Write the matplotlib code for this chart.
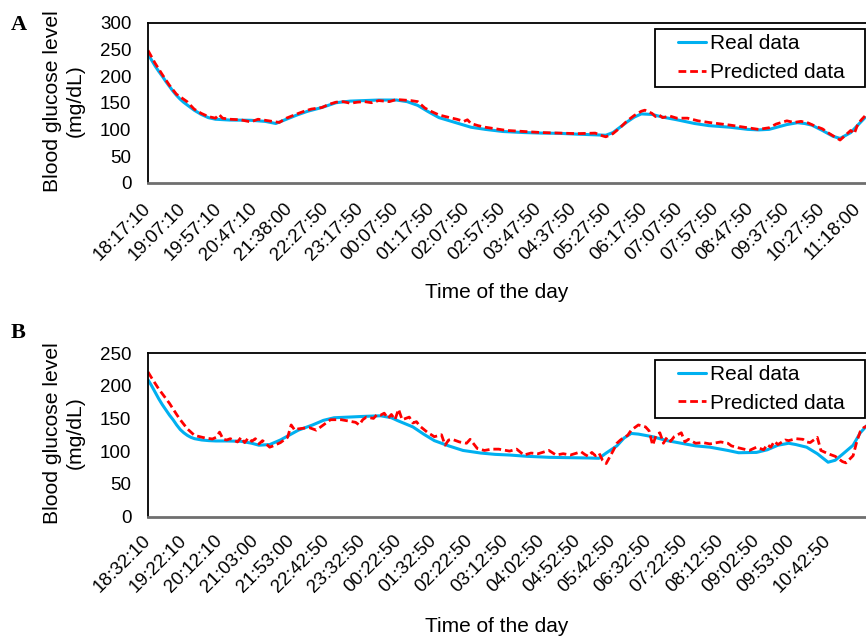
import matplotlib
matplotlib.use("Agg")
import matplotlib.pyplot as plt
from matplotlib.legend_handler import HandlerLine2D
from matplotlib.lines import Line2D

plt.rcParams['font.family'] = ['Liberation Sans', 'DejaVu Sans']

# ---------------- Panel A data ----------------
labels_a = ["18:17:10", "19:07:10", "19:57:10", "20:47:10", "21:38:00", "22:27:50",
            "23:17:50", "00:07:50", "01:17:50", "02:07:50", "02:57:50", "03:47:50",
            "04:37:50", "05:27:50", "06:17:50", "07:07:50", "07:57:50", "08:47:50",
            "09:37:50", "10:27:50", "11:18:00"]
real_a_idx = [0, 1, 2, 3, 4, 5, 6, 7, 8, 9, 10, 11, 12, 13, 15, 17, 19, 23, 29, 33, 36, 39,
              42, 45, 49, 53, 57, 61, 65, 70, 73, 76, 79, 82, 87, 91, 95, 100, 106, 111, 116,
              121, 127, 129, 131, 133, 135, 137, 139, 142, 145, 149, 154, 158, 164, 169,
              172, 175, 180, 183, 185, 187, 190, 193, 195, 198, 200, 202]
real_a = [241, 230, 219, 209, 200, 190, 181, 172, 164, 157, 151, 146, 141, 136, 128, 122,
          119, 117.5, 117, 115, 111, 119, 127, 134, 141, 150, 153, 154, 155, 155, 152, 145,
          133, 122, 112, 104, 100, 96, 94, 93, 92.5, 91, 89.5, 89, 94, 104, 114, 123, 129,
          128, 123, 118, 111, 107, 104, 100, 99, 100, 109, 112.5, 111, 108, 98, 87, 83, 94,
          108, 122]
pred_a_idx = [0, 2, 4, 6, 8, 11, 13, 15, 17, 19, 20, 21, 23, 26, 29, 31, 33, 35, 37, 39,
              42, 44, 46, 49, 51, 53, 55, 57, 59, 61, 63, 65, 68, 70, 72, 74, 76, 78, 80,
              82, 85, 87, 89, 90, 91, 93, 95, 98, 101, 106, 111, 116, 121, 126, 128, 129,
              131, 133, 135, 137, 139, 140, 142, 143, 144, 145, 147, 149, 152, 155, 158,
              164, 169, 172, 175, 177, 180, 182, 184, 186, 188, 190, 192, 194, 195, 196,
              198, 199, 200, 201, 202]
pred_a = [248, 224, 203, 183, 166, 152, 138, 130, 124, 121, 128, 121, 119, 118, 114, 119,
          117, 115, 113, 121, 129, 134, 138, 141, 147, 151, 152, 149, 151, 152, 150, 154,
          152, 156, 155, 154, 152, 140, 133, 127, 122, 119, 115, 118, 111, 107, 104, 101,
          98, 96, 94, 93, 92, 93, 88, 86, 92, 103, 116, 126, 134, 136, 130, 124, 127, 122,
          125, 121, 121, 116, 113, 108, 103, 100, 103, 110, 116, 113, 115, 112, 106, 101,
          92, 84, 80, 86, 98, 92, 110, 118, 125]

# ---------------- Panel B data ----------------
labels_b = ["18:32:10", "19:22:10", "20:12:10", "21:03:00", "21:53:00", "22:42:50",
            "23:32:50", "00:22:50", "01:32:50", "02:22:50", "03:12:50", "04:02:50",
            "04:52:50", "05:42:50", "06:32:50", "07:22:50", "08:12:50", "09:02:50",
            "09:53:00", "10:42:50"]
real_b_idx = [0, 1, 2, 3, 4, 5, 6, 7, 8, 9, 10, 11, 12, 13, 15, 17, 19, 22, 26, 29, 31,
              34, 37, 40, 42, 46, 49, 52, 56, 60, 65, 68, 70, 74, 77, 80, 84, 88, 93, 97,
              101, 106, 112, 117, 123, 126, 128, 131, 133, 135, 137, 141, 145, 149, 153,
              157, 162, 165, 170, 173, 176, 179, 181, 184, 187, 190, 192, 194, 197, 199, 201]
real_b = [209, 200, 190, 180, 171, 163, 155, 148, 140, 133, 128, 124, 121, 119, 117, 116,
          115.5, 115.5, 115, 112, 109, 110, 117, 126, 132, 140, 147, 151, 152, 153, 154,
          151, 146, 137, 126, 116, 108, 101, 97, 95, 94, 92, 90.5, 90, 89.5, 89, 97, 108,
          120, 127, 126, 122, 116, 112, 108, 106, 101, 97.5, 98, 102, 109, 112, 110, 106,
          96, 83, 86, 95, 109, 128, 140]
pred_b_idx = [0, 1, 3, 6, 8, 9, 11, 13, 16, 18, 19, 20, 21, 22, 23, 25, 26, 27, 28, 29,
              30, 31, 32, 34, 35, 37, 39, 40, 41, 42, 45, 47, 49, 51, 54, 56, 58, 59, 60,
              61, 63, 64, 65, 66, 67, 68, 69, 70, 71, 73, 74, 75, 76, 78, 80, 82, 83, 84,
              85, 87, 89, 90, 92, 94, 96, 98, 101, 103, 105, 107, 109, 112, 114, 116, 118,
              121, 122, 123, 124, 125, 126, 127, 128, 130, 131, 132, 133, 134, 135, 136,
              137, 139, 140, 141, 142, 143, 144, 145, 146, 147, 149, 150, 151, 153, 155,
              157, 160, 162, 163, 165, 168, 170, 172, 173, 174, 175, 176, 178, 179, 181,
              183, 184, 185, 187, 188, 190, 192, 194, 195, 197, 198, 199, 200, 201]
pred_b = [221, 212, 195, 173, 156, 148, 134, 124, 120, 118.5, 121, 129, 118, 117, 119,
          114, 121, 113, 120, 115, 119, 111, 116, 106, 108, 113, 121, 140, 132, 134, 136,
          132, 140, 148, 148, 146, 144, 140, 148, 152, 150, 156, 155, 158, 150, 156, 148,
          164, 148, 152, 143, 145, 138, 129, 122, 125, 109, 117, 118, 114, 112, 118, 104,
          101, 103, 103, 100, 103, 94, 97, 96, 101, 94, 96, 94, 99, 95, 92, 98, 93, 97, 86,
          81, 101, 112, 117, 121, 124, 132, 136, 140, 137, 131, 109, 125, 128, 112, 121,
          115, 122, 128, 114, 118, 112, 113, 111, 114, 112, 108, 105, 101, 106, 102, 110,
          106, 115, 110, 117, 116, 119, 118, 114, 113, 121, 101, 96, 92, 84, 82, 93, 114,
          130, 136, 139]

BLUE = "#00B0F0"
RED = "#FF0000"
W, H = 866, 637

fig = plt.figure(figsize=(W / 100, H / 100), dpi=100)


def make_panel(rect, ridx, rval, pidx, pval, labels, ymax, xmax, xpad, legend_top):
    ax = fig.add_axes(rect)
    ax.plot(ridx, rval, color=BLUE, lw=2.2, solid_joinstyle='round',
            solid_capstyle='round', label="Real data")
    ax.plot(pidx, pval, color=RED, lw=2.0, linestyle=(0, (2.8, 1.4)), label="Predicted data")
    ax.set_xlim(0, xmax)
    ax.set_ylim(0, ymax)
    ax.set_yticks(list(range(0, ymax + 1, 50)))
    ax.set_xticks(list(range(0, 10 * len(labels), 10)))
    ax.set_xticklabels(labels)
    ax.tick_params(axis='both', length=0, labelsize=13.5, colors='black')
    ax.tick_params(axis='y', pad=12)
    ax.tick_params(axis='x', pad=xpad)
    for lab in ax.get_xticklabels():
        lab.set_rotation(45)
        lab.set_ha('right')
        lab.set_va('center')
        lab.set_rotation_mode('anchor')
    ax.spines['right'].set_visible(False)
    ax.spines['top'].set_color('black')
    ax.spines['top'].set_linewidth(1.3)
    ax.spines['left'].set_color('black')
    ax.spines['left'].set_linewidth(1.3)
    ax.spines['bottom'].set_color('#6f6f6f')
    ax.spines['bottom'].set_linewidth(2.0)
    handles, labs = ax.get_legend_handles_labels()
    leg = ax.legend(handles, labs, loc='upper left',
                    bbox_to_anchor=(655 / W, 1 - legend_top / H - 0.05, 210 / W, 0.05),
                    bbox_transform=fig.transFigure, mode='expand', borderaxespad=0,
                    fontsize=15, borderpad=0.25, labelspacing=0.46, handlelength=3.05,
                    handletextpad=-0.68, fancybox=False, framealpha=1, edgecolor='black',
                    handler_map={Line2D: HandlerLine2D(marker_pad=0.85, numpoints=2)})
    leg.get_frame().set_linewidth(1.3)
    return ax


axA = make_panel([148 / W, 1 - 182.7 / H, 718 / W, 160 / H], real_a_idx, real_a,
                 pred_a_idx, pred_a, labels_a, 300, 202.3, 16.5, 29)
axB = make_panel([148 / W, 1 - 516.5 / H, 718 / W, 163.5 / H], real_b_idx, real_b,
                 pred_b_idx, pred_b, labels_b, 250, 200.6, 15.5, 360)

for yc in (101, 433):
    fig.text(64 / W, 1 - yc / H, "Blood glucose level\n(mg/dL)", rotation=90,
             ha='center', va='center', multialignment='center', fontsize=15.2,
             linespacing=1.22)
fig.text(497 / W, 1 - 292 / H, "Time of the day", ha='center', va='center', fontsize=15)
fig.text(497 / W, 1 - 627 / H, "Time of the day", ha='center', va='center', fontsize=15)
fig.text(11 / W, 1 - 15 / H, "A", family=['Liberation Serif', 'DejaVu Serif'],
         fontweight='bold', fontsize=16, ha='left', va='top')
fig.text(11 / W, 1 - 323 / H, "B", family=['Liberation Serif', 'DejaVu Serif'],
         fontweight='bold', fontsize=16, ha='left', va='top')

fig.savefig("out.png", dpi=100, facecolor='white')
